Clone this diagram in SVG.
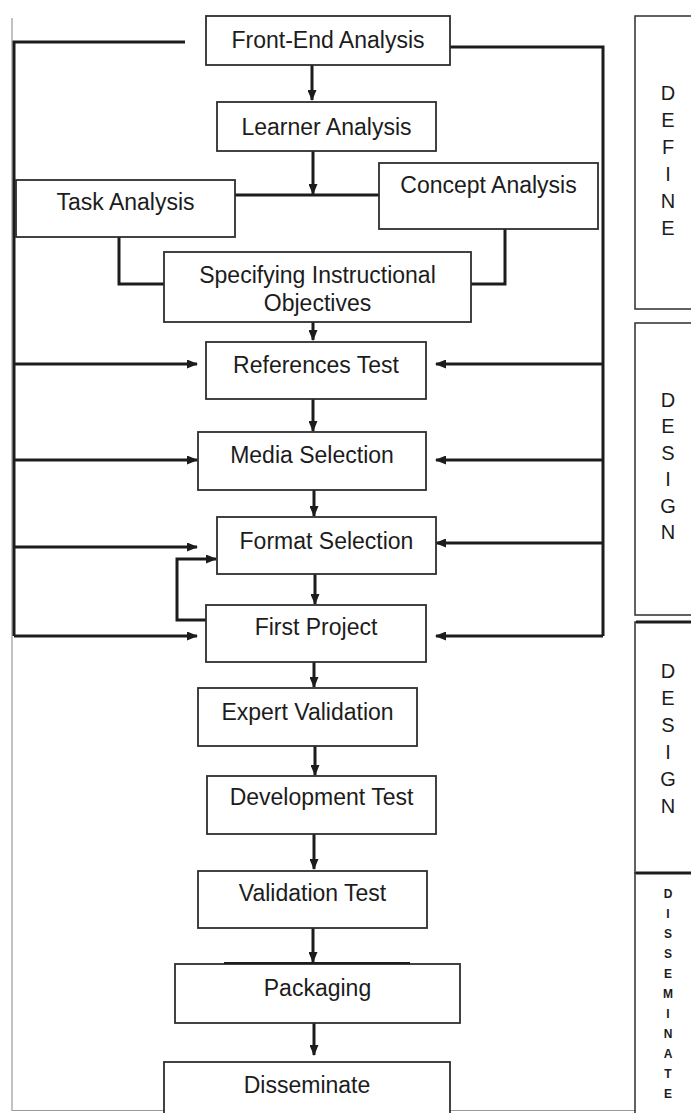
<svg xmlns="http://www.w3.org/2000/svg" width="691" height="1113" viewBox="0 0 691 1113">
<style>
.bg{fill:#ffffff}
.box{fill:#ffffff;stroke:#2e2e2e;stroke-width:1.8}
.lbl{font-family:"Liberation Sans",Arial,sans-serif;font-size:23px;fill:#1c1c1c;text-anchor:middle}
.side{font-family:"Liberation Sans",Arial,sans-serif;font-size:20px;fill:#1c1c1c;text-anchor:middle}
.sides{font-family:"Liberation Sans",Arial,sans-serif;font-size:12px;font-weight:bold;fill:#1c1c1c;text-anchor:middle}
.ln{fill:none;stroke:#1c1c1c;stroke-width:3}
.arr{fill:none;stroke:#1c1c1c;stroke-width:3;marker-end:url(#ah)}
.frame{fill:none;stroke:#9a9a9a;stroke-width:1.2}
.panel{fill:#ffffff;stroke:#2e2e2e;stroke-width:1.5}
</style>
<defs>
<marker id="ah" viewBox="0 0 11 9" refX="10" refY="4.5" markerWidth="11" markerHeight="9" markerUnits="userSpaceOnUse" orient="auto">
<path d="M0,0 L11,4.5 L0,9 Z" fill="#1c1c1c"/>
</marker>
</defs>
<rect class="bg" x="0" y="0" width="691" height="1113"/>
<g id="frame">
<polyline class="frame" points="12,18 12,1110.5 635,1110.5"/>
</g>
<g id="connectors">
<polyline class="ln" points="185,42 14,42 14,636"/>
<polyline class="ln" points="450,47 603,47 603,636"/>
<line class="arr" x1="312" y1="65" x2="312" y2="100"/>
<line class="arr" x1="313" y1="151" x2="313" y2="194"/>
<line class="ln" x1="235" y1="195" x2="379" y2="195"/>
<polyline class="ln" points="119,237 119,284 164,284"/>
<polyline class="ln" points="505,229 505,284 471,284"/>
<line class="arr" x1="313" y1="322" x2="313" y2="340"/>
<line class="arr" x1="313" y1="399" x2="313" y2="431"/>
<line class="arr" x1="314" y1="490" x2="314" y2="516"/>
<line class="arr" x1="315" y1="574" x2="315" y2="604"/>
<line class="arr" x1="314" y1="662" x2="314" y2="687"/>
<line class="arr" x1="315" y1="746" x2="315" y2="775"/>
<line class="arr" x1="314" y1="834" x2="314" y2="869"/>
<line class="arr" x1="313" y1="928" x2="313" y2="962"/>
<line class="arr" x1="314" y1="1023" x2="314" y2="1055"/>
<line class="arr" x1="14" y1="364" x2="197" y2="364"/>
<line class="arr" x1="14" y1="460" x2="197" y2="460"/>
<line class="arr" x1="14" y1="547" x2="197" y2="547"/>
<line class="arr" x1="14" y1="636" x2="197" y2="636"/>
<line class="arr" x1="603" y1="364" x2="436" y2="364"/>
<line class="arr" x1="603" y1="460" x2="436" y2="460"/>
<line class="arr" x1="603" y1="543" x2="436" y2="543"/>
<line class="arr" x1="603" y1="636" x2="436" y2="636"/>
<polyline class="arr" points="206,620 177,620 177,559 216,559"/>
</g>
<g id="front-end">
<rect class="box" x="206" y="16" width="244" height="49"/>
<text class="lbl" x="328" y="48">Front-End Analysis</text>
</g>
<g id="learner">
<rect class="box" x="217" y="102" width="219" height="49"/>
<text class="lbl" x="326.5" y="135">Learner Analysis</text>
</g>
<g id="task">
<rect class="box" x="16" y="180" width="219" height="57"/>
<text class="lbl" x="125.5" y="210">Task Analysis</text>
</g>
<g id="concept">
<rect class="box" x="379" y="163" width="219" height="66"/>
<text class="lbl" x="488.5" y="193">Concept Analysis</text>
</g>
<g id="objectives">
<rect class="box" x="164" y="252" width="307" height="70"/>
<text class="lbl" x="317.5" y="283">Specifying Instructional</text>
<text class="lbl" x="317.5" y="311">Objectives</text>
</g>
<g id="references">
<rect class="box" x="206" y="342" width="220" height="57"/>
<text class="lbl" x="316" y="373">References Test</text>
</g>
<g id="media">
<rect class="box" x="198" y="432" width="228" height="58"/>
<text class="lbl" x="312" y="463">Media Selection</text>
</g>
<g id="format">
<rect class="box" x="217" y="517" width="219" height="57"/>
<text class="lbl" x="326.5" y="549">Format Selection</text>
</g>
<g id="first-project">
<rect class="box" x="206" y="605" width="220" height="57"/>
<text class="lbl" x="316" y="635">First Project</text>
</g>
<g id="expert">
<rect class="box" x="198" y="688" width="219" height="58"/>
<text class="lbl" x="307.5" y="720">Expert Validation</text>
</g>
<g id="development">
<rect class="box" x="207" y="776" width="229" height="58"/>
<text class="lbl" x="321.5" y="805">Development Test</text>
</g>
<g id="validation">
<rect class="box" x="198" y="871" width="229" height="57"/>
<text class="lbl" x="312.5" y="901">Validation Test</text>
</g>
<g id="packaging">
<rect class="box" x="175" y="964" width="285" height="59"/>
<line x1="224" y1="963" x2="410" y2="963" stroke="#1c1c1c" stroke-width="2"/>
<text class="lbl" x="317.5" y="996">Packaging</text>
</g>
<g id="disseminate">
<rect class="box" x="164" y="1062" width="286" height="60"/>
<text class="lbl" x="307" y="1093">Disseminate</text>
</g>
<g id="phase-define">
<rect class="panel" x="635" y="16" width="80" height="293"/>
<text class="side" x="668" y="100">D</text>
<text class="side" x="668" y="127">E</text>
<text class="side" x="668" y="154">F</text>
<text class="side" x="668" y="181">I</text>
<text class="side" x="668" y="208">N</text>
<text class="side" x="668" y="235">E</text>
</g>
<g id="phase-design-1">
<rect class="panel" x="635" y="323" width="80" height="292"/>
<text class="side" x="668" y="407">D</text>
<text class="side" x="668" y="433">E</text>
<text class="side" x="668" y="460">S</text>
<text class="side" x="668" y="486">I</text>
<text class="side" x="668" y="513">G</text>
<text class="side" x="668" y="539">N</text>
</g>
<g id="phase-design-2">
<rect class="panel" x="635" y="622" width="80" height="251"/>
<line x1="636" y1="622" x2="691" y2="622" stroke="#1c1c1c" stroke-width="3"/>
<text class="side" x="668" y="678">D</text>
<text class="side" x="668" y="705">E</text>
<text class="side" x="668" y="732">S</text>
<text class="side" x="668" y="759">I</text>
<text class="side" x="668" y="786">G</text>
<text class="side" x="668" y="813">N</text>
</g>
<g id="phase-disseminate">
<rect class="panel" x="635" y="873" width="80" height="260"/>
<line x1="636" y1="873" x2="691" y2="873" stroke="#1c1c1c" stroke-width="3"/>
<text class="sides" x="668" y="898">D</text>
<text class="sides" x="668" y="918">I</text>
<text class="sides" x="668" y="938">S</text>
<text class="sides" x="668" y="958">S</text>
<text class="sides" x="668" y="978">E</text>
<text class="sides" x="668" y="998">M</text>
<text class="sides" x="668" y="1018">I</text>
<text class="sides" x="668" y="1038">N</text>
<text class="sides" x="668" y="1058">A</text>
<text class="sides" x="668" y="1078">T</text>
<text class="sides" x="668" y="1098">E</text>
</g>
</svg>
